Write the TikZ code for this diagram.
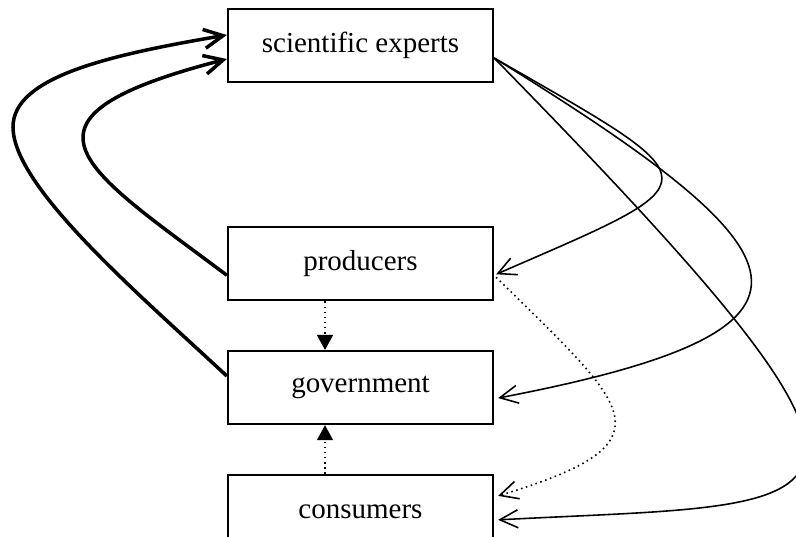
\documentclass[tikz,border=0pt]{standalone}
\usepackage{fontspec}
\setmainfont{Liberation Serif}
\usetikzlibrary{positioning,arrows.meta}

\begin{document}
\begin{tikzpicture}%
  [actor/.style=
    {draw,line width=1.3pt,minimum height=1.46cm,minimum width=5.3cm,
     align=center,font=\fontsize{16.5}{19}\selectfont},
   report/.style={line width=2pt,-{Straight Barb[length=3.8mm,width=3.8mm]}},
   advice/.style={line width=0.9pt,-{Straight Barb[length=3.6mm,width=3.6mm]}},
   lobby/.style={line width=0.9pt,dotted,-{Straight Barb[length=3.6mm,width=3.6mm]}},
   pressure/.style={line width=0.9pt,dotted,-{Triangle[length=3mm,width=3.2mm]}},
   node distance=0.97cm
  ]
  \useasboundingbox (0,0) rectangle (15.92,-10.74);
  \node[actor] (exp) at (7.21,-0.91) {scientific experts};
  \node[actor,below=2.86cm of exp] (prod) {producers};
  \node[actor,below=of prod] (gov) {government};
  \node[actor,below=of gov] (cons) {consumers};
  \coordinate (out) at ([yshift=-2.5mm]exp.east);
  % lobbying back to the experts
  \draw[report] ([yshift=-2.3mm]prod.west)
    .. controls +(-2.88,2.16) and +(-4.64,-1.2) .. ([yshift=-2.7mm]exp.west);
  \draw[report] ([yshift=2.3mm]gov.west)
    .. controls +(-1.76,1.64) and +(0,-1.2) .. (0.26,-2.54)
    .. controls +(0,1) and +(-2.36,-0.4) .. ([yshift=2.1mm]exp.west);
  % advice from the experts
  \draw[advice] (out)
    .. controls +(4.46,-2.56) and +(4.42,1.92) .. ([xshift=0.4mm,yshift=-2.1mm]prod.east);
  \draw[advice] (out)
    .. controls +(6.38,-3.94) and +(7.2,1.38) .. ([xshift=0.8mm,yshift=-2.1mm]gov.east);
  \draw[advice] (out)
    .. controls +(9.24,-9.44) and +(7.2,0.38) .. ([xshift=0.8mm,yshift=-1.7mm]cons.east);
  \draw[lobby] ([xshift=0.4mm,yshift=-2.7mm]prod.east)
    .. controls +(2.66,-2.62) and +(3.58,1.08) .. ([xshift=0.8mm,yshift=3.1mm]cons.east);
  % pressure on government
  \draw[pressure] ([xshift=-7.1mm]prod.south) -- ([xshift=-7.1mm]gov.north);
  \draw[pressure] ([xshift=-7.1mm]cons.north) -- ([xshift=-7.1mm]gov.south);
\end{tikzpicture}
\end{document}
